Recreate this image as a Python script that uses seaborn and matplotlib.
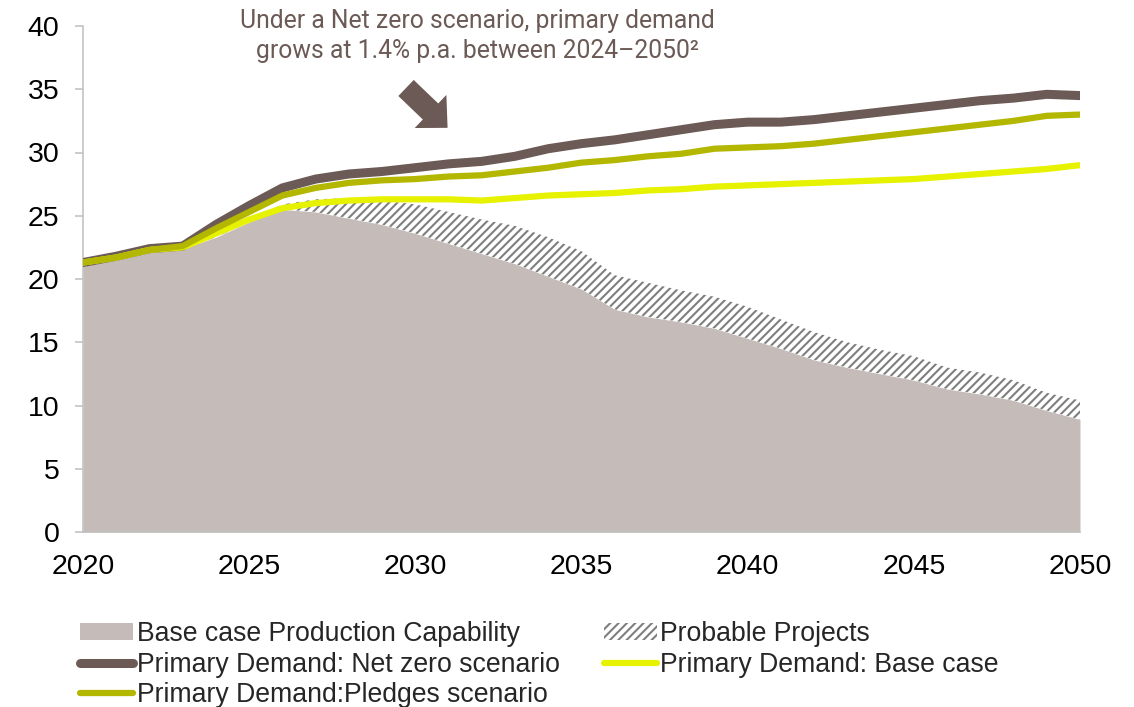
import numpy as np
import pandas as pd
import matplotlib
matplotlib.use("Agg")
import matplotlib.pyplot as plt
import seaborn as sns
from matplotlib.patches import Patch, FancyArrowPatch
from matplotlib.lines import Line2D

# ---------------- data ----------------
years = list(range(2020, 2051))
base_production = [21.0, 21.5, 22.2, 22.4, 23.3, 24.5, 25.5, 25.3, 24.8, 24.3,
                   23.6, 22.8, 22.0, 21.2, 20.2, 19.2, 17.6, 17.0, 16.6, 16.1,
                   15.3, 14.5, 13.6, 13.0, 12.5, 12.0, 11.3, 10.9, 10.4, 9.6, 8.9]
probable_projects = [0.0, 0.0, 0.0, 0.0, 0.1, 0.2, 0.4, 1.0, 1.6, 1.9,
                     2.3, 2.5, 2.7, 3.0, 3.1, 3.0, 2.7, 2.7, 2.5, 2.5,
                     2.5, 2.3, 2.2, 2.0, 1.9, 1.9, 1.7, 1.7, 1.6, 1.4, 1.5]
demand_net_zero = [21.3, 21.8, 22.4, 22.6, 24.3, 25.8, 27.2, 27.9, 28.3, 28.5,
                   28.8, 29.1, 29.3, 29.7, 30.3, 30.7, 31.0, 31.4, 31.8, 32.2,
                   32.4, 32.4, 32.6, 32.9, 33.2, 33.5, 33.8, 34.1, 34.3, 34.6, 34.5]
demand_base_case = [21.3, 21.7, 22.3, 22.5, 23.6, 24.7, 25.6, 26.0, 26.2, 26.3,
                    26.3, 26.3, 26.2, 26.4, 26.6, 26.7, 26.8, 27.0, 27.1, 27.3,
                    27.4, 27.5, 27.6, 27.7, 27.8, 27.9, 28.1, 28.3, 28.5, 28.7, 29.0]
demand_pledges = [21.3, 21.7, 22.3, 22.6, 24.0, 25.3, 26.6, 27.2, 27.6, 27.8,
                  27.9, 28.1, 28.2, 28.5, 28.8, 29.2, 29.4, 29.7, 29.9, 30.3,
                  30.4, 30.5, 30.7, 31.0, 31.3, 31.6, 31.9, 32.2, 32.5, 32.9, 33.0]
y_ticks = [0, 5, 10, 15, 20, 25, 30, 35, 40]
x_ticks = [2020, 2025, 2030, 2035, 2040, 2045, 2050]

labels = {
    "base": "Base case Production Capability",
    "prob": "Probable Projects",
    "nz": "Primary Demand: Net zero scenario",
    "bc": "Primary Demand: Base case",
    "pl": "Primary Demand:Pledges scenario",
}
annotation = "Under a Net zero scenario, primary demand\ngrows at 1.4% p.a. between 2024\u20132050\u00b2"

# ---------------- style ----------------
sns.set_theme(style="white")
plt.rcParams["font.family"] = ["Liberation Sans", "DejaVu Sans"]
plt.rcParams["hatch.linewidth"] = 1.5

C_AREA = "#C5BCB9"
C_HATCH = "#7F7F7F"
C_NZ = "#6B5A55"
C_BC = "#E6F200"
C_PL = "#B3B700"
C_AXIS = "#BFBFBF"

df = pd.DataFrame({
    "year": years,
    "base": base_production,
    "prob": probable_projects,
    "nz": demand_net_zero,
    "bc": demand_base_case,
    "pl": demand_pledges,
})
df["prob_top"] = df["base"] + df["prob"]

fig = plt.figure(figsize=(11.34, 7.07), dpi=100)
ax = fig.add_axes([83 / 1134, 1 - 532 / 707, (1080 - 83) / 1134, (532 - 26) / 707])

ax.fill_between(df["year"], 0, df["base"], color=C_AREA, linewidth=0, zorder=1)
ax.fill_between(df["year"], df["base"], df["prob_top"], facecolor="white",
                edgecolor=C_HATCH, hatch="////", linewidth=0, zorder=1)

sns.lineplot(data=df, x="year", y="nz", ax=ax, color=C_NZ, linewidth=6.5,
             solid_capstyle="round", zorder=3)
sns.lineplot(data=df, x="year", y="bc", ax=ax, color=C_BC, linewidth=4.5,
             solid_capstyle="round", zorder=4)
sns.lineplot(data=df, x="year", y="pl", ax=ax, color=C_PL, linewidth=4.5,
             solid_capstyle="round", zorder=5)

ax.set_xlim(2020, 2050)
ax.set_ylim(0, 40)
ax.set_xticks(x_ticks)
ax.set_yticks(y_ticks)
ax.set_xlabel("")
ax.set_ylabel("")
for s in ["top", "right"]:
    ax.spines[s].set_visible(False)
for s in ["left", "bottom"]:
    ax.spines[s].set_color(C_AXIS)
    ax.spines[s].set_linewidth(1.1)
ax.tick_params(axis="y", which="both", left=True, length=6, width=1.1, color=C_AXIS,
               labelsize=20.5, pad=11, labelcolor="black")
ax.tick_params(axis="x", which="both", bottom=False, length=0,
               labelsize=20.5, pad=16, labelcolor="black")

# arrow
arrow = FancyArrowPatch((2029.72, 35.1), (2030.97, 31.95),
                        arrowstyle="simple,head_length=17,head_width=33,tail_width=16",
                        mutation_scale=1, color=C_NZ, linewidth=0, zorder=6,
                        shrinkA=0, shrinkB=0)
ax.add_patch(arrow)

fig.text(477 / 1134, 1 - 9 / 707, annotation, ha="center", va="top",
         fontsize=17.8, color="#6B5A55", family=["Roboto", "DejaVu Sans"],
         fontweight="normal", linespacing=1.3)

handles = [
    Patch(facecolor=C_AREA, edgecolor="none", label=labels["base"]),
    Line2D([0], [0], color=C_NZ, linewidth=6.5, solid_capstyle="round", label=labels["nz"]),
    Line2D([0], [0], color=C_PL, linewidth=4.5, solid_capstyle="round", label=labels["pl"]),
    Patch(facecolor="white", edgecolor=C_HATCH, hatch="////", linewidth=0, label=labels["prob"]),
    Line2D([0], [0], color=C_BC, linewidth=4.5, solid_capstyle="round", label=labels["bc"]),
]
fig.legend(handles=handles, loc="upper left", bbox_to_anchor=(80 / 1134, 1 - 621 / 707),
           ncol=2, frameon=False, fontsize=19.2, handlelength=2.0, handleheight=0.6,
           handletextpad=0.12, columnspacing=1.65, labelspacing=0.17,
           borderpad=0, borderaxespad=0)

fig.savefig("out.png", dpi=100)
